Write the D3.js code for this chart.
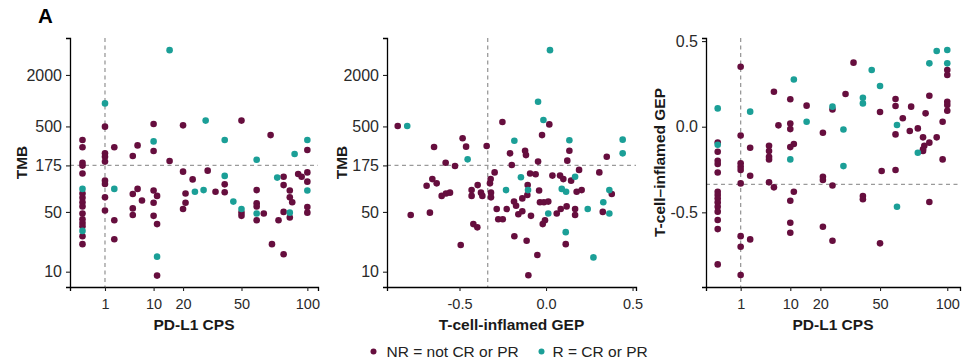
<!DOCTYPE html>
<html>
<head>
<meta charset="utf-8">
<script src="https://cdn.jsdelivr.net/npm/d3@7"></script>
<style>
  html, body { margin: 0; padding: 0; background: #fff; }
  svg { display: block; font-family: "Liberation Sans", Arial, Helvetica, sans-serif; }
</style>
</head>
<body>
<svg id="chart" width="967" height="364"></svg>
<script>
// ---- data: [x, y] pairs per response group ----
// Panel 1: PD-L1 CPS vs TMB
const cpsTmbNR = [
  [1,497],[10,534],[20,515],[50,585],[70,396],[100,265],[10,258],[6,300],[5,225],[2,285],
  [1,242],[1,221],[1,194],[15,197],[0,347],[0,285],[0,188],[0,174],[0,141],[20,148],
  [31,152],[24,120],[80,129],[92,139],[95,129],[100,145],
  [0,82],[0,73],[0,65],[0,58],[0,48],[0,41],[0,37],[0,34],[0,26],[0,21],
  [1,116],[1,106],[1,74],[1,52],[2,40],[2,24],[5,81],[6,93],[7,68],[5,55],[5,46],
  [10,89],[11,77],[10,64],[10,45],[11,36],[11,9],[21,82],[21,64],[20,54],
  [35,86],[40,105],[40,85],[50,49],[50,45],[60,90],[60,63],[60,58],[65,48],[60,40],
  [76,40],[71,21],[80,103],[80,50],[80,16],[85,89],[85,74],[85,43],[87,65],
  [100,113],[100,57],[100,49]
];
const cpsTmbR = [
  [15,3900],[1,930],[30,585],[40,347],[100,347],[89,238],[60,204],[10,334],[40,132],[75,126],
  [0,93],[0,30],[2,93],[11,15],[25,86],[29,90],[45,66],[50,54],[60,48],[85,49],[100,89]
];

// Panel 2: T-cell-inflamed GEP vs TMB
const gepTmbNR = [
  [0.019,528],[-0.252,563],[-0.857,506],[-0.023,396],[-0.482,363],[-0.462,290],[-0.647,287],
  [-0.343,295],[-0.121,260],[-0.116,231],[-0.208,242],[0.135,260],[0.351,221],[-0.580,188],
  [-0.526,172],[-0.198,177],[-0.046,194],[0.123,199],[-0.297,145],[-0.092,141],[-0.060,138],
  [0.037,133],[0.081,133],[0.191,155],[0.308,145],[-0.657,121],[-0.320,121],[0.100,121],
  [0.145,116],[-0.324,108],[-0.690,101],[-0.632,108],[-0.603,77],[-0.578,82],[-0.555,84],
  [-0.782,46],[-0.671,49],[-0.493,20.5],[-0.430,90],[-0.430,77],[-0.395,103],[-0.376,84],
  [-0.368,77],[-0.318,84],[-0.318,74],[-0.420,36],[-0.397,33],[-0.285,54],[-0.276,41],
  [-0.250,41],[-0.185,66],[-0.173,59],[-0.183,26],[-0.227,54],[-0.160,47],[-0.137,51],
  [-0.137,72],[-0.108,79],[-0.106,103],[-0.087,45],[-0.112,23],[-0.050,15.7],[-0.102,9.1],
  [-0.040,89],[-0.035,65],[-0.012,65],[0.013,66],[-0.019,36],[-0.006,40],[0.062,48],
  [0.085,54],[0.119,58],[0.114,21],[0.177,86],[0.206,90],[0.168,54],[0.168,46],
  [0.328,50],[0.380,81]
];
const gepTmbR = [
  [0.023,3900],[-0.046,970],[-0.015,594],[-0.802,506],[-0.183,340],[0.135,345],[0.443,350],
  [0.443,242],[-0.453,206],[-0.145,127],[0.168,129],[-0.231,90],[-0.104,90],[0.013,48],
  [0.091,93],[0.116,86],[0.114,29],[0.241,54],[0.274,14.7],[0.331,65],[0.366,90],[0.366,48]
];

// Panel 3: PD-L1 CPS vs T-cell-inflamed GEP
const cpsGepNR = [
  [0,-0.092],[0,-0.146],[0,-0.199],[0,-0.218],[0,-0.267],[1,0.350],[1,-0.051],[1,-0.214],
  [1,-0.234],[1,-0.253],[2,-0.123],[2,-0.286],[5,-0.111],[5,-0.142],[5,-0.175],[5,-0.191],
  [6,0.204],[7,0.008],[10,0.160],[10,0.019],[10,-0.014],[11,-0.101],[10,-0.119],[15,0.123],
  [21,-0.035],[21,-0.292],[25,0.101],[31,0.191],[35,0.374],[50,0.086],[51,-0.259],[60,0.162],
  [60,0.121],[60,-0.045],[60,-0.253],[65,0.049],[70,-0.025],[71,0.117],[76,-0.010],[80,-0.062],
  [81,-0.111],[80,-0.132],[80,-0.142],[82,0.078],[85,0.181],[85,-0.093],[91,-0.062],[96,0.029],
  [96,-0.191],[100,0.331],[100,0.302],[100,0.146],[100,0.127],[100,0.093],
  [0,-0.380],[0,-0.399],[0,-0.419],[0,-0.442],[0,-0.467],[0,-0.496],[0,-0.545],[0,-0.598],[0,-0.804],
  [1,-0.331],[1,-0.639],[1,-0.701],[1,-0.866],[2,-0.658],[5,-0.325],[6,-0.354],[11,-0.380],
  [10,-0.432],[10,-0.561],[10,-0.619],[21,-0.311],[25,-0.343],[21,-0.584],[25,-0.666],
  [40,-0.405],[40,-0.424],[50,-0.681],[85,-0.440]
];
const cpsGepR = [
  [0,0.107],[0,-0.105],[2,0.088],[11,0.276],[10,-0.191],[15,0.029],[25,0.117],[30,-0.016],
  [30,-0.230],[40,0.169],[40,0.136],[45,0.331],[50,0.238],[61,0.010],[76,-0.152],[85,0.370],
  [91,0.442],[100,0.448],[100,0.370],[61,-0.467]
];

// ---- tick labels and cut-offs ----
const cpsTicks = [1, 10, 20, 50, 100];
const tmbTicks = [10, 50, 175, 500, 2000];
const gepTicks = [-0.5, 0, 0.5];
const cpsCut = 1, tmbCut = 175, gepCut = -0.337;
const groupLabels = ["NR = not CR or PR", "R = CR or PR"];

// ---- styling ----
const colNR = "#660e3e", colR = "#1b9f97";
const dotR = 3.3;
const svg = d3.select("#chart");

svg.append("text").attr("x", 38).attr("y", 23)
  .attr("font-size", 20.5).attr("font-weight", "bold").attr("fill", "#000").text("A");

const panelTop = 38, panelBottom = 287;

function panel(cfg) {
  const { x, y, xTicks, yTicks, xFmt, yFmt, nr, r, xCut, yCut, xTitle, yTitle, yTitleX } = cfg;
  const g = svg.append("g");
  const [x0, x1] = x.range();
  const [y0, y1] = y.range();

  // reference cut-off lines
  g.append("line").attr("x1", x(xCut)).attr("x2", x(xCut)).attr("y1", y1).attr("y2", y0)
    .attr("stroke", "#9a9a9a").attr("stroke-width", 1.3).attr("stroke-dasharray", "4,3.5");
  g.append("line").attr("x1", x0).attr("x2", x1).attr("y1", y(yCut)).attr("y2", y(yCut))
    .attr("stroke", "#9a9a9a").attr("stroke-width", 1.3).attr("stroke-dasharray", "4,3.5");

  // points
  g.append("g").selectAll("circle").data(nr).join("circle")
    .attr("cx", d => x(d[0])).attr("cy", d => y(d[1])).attr("r", dotR).attr("fill", colNR);
  g.append("g").selectAll("circle").data(r).join("circle")
    .attr("cx", d => x(d[0])).attr("cy", d => y(d[1])).attr("r", dotR).attr("fill", colR);

  // axes
  const ax = g.append("g").attr("transform", `translate(0,${y0})`)
    .call(d3.axisBottom(x).tickValues(xTicks).tickFormat(xFmt).tickSizeOuter(0).tickSize(4).tickPadding(4));
  const ay = g.append("g").attr("transform", `translate(${x0},0)`)
    .call(d3.axisLeft(y).tickValues(yTicks).tickFormat(yFmt).tickSizeOuter(0).tickSize(4).tickPadding(4));
  [ax, ay].forEach(a => {
    a.select(".domain").attr("stroke", "#000").attr("stroke-width", 1.3);
    a.selectAll(".tick line").attr("stroke", "#222").attr("stroke-width", 1.1);
    a.selectAll(".tick text").attr("fill", "#2a2a2a")
      .attr("font-family", "Liberation Sans, Arial, sans-serif");
  });
  ax.selectAll(".tick text").attr("font-size", 14.5).attr("dy", "0.95em");
  ay.selectAll(".tick text").attr("font-size", 16);

  // titles
  g.append("text").attr("x", (x0 + x1) / 2).attr("y", 330).attr("text-anchor", "middle")
    .attr("font-size", 15.5).attr("font-weight", "bold").attr("fill", "#1a1a1a").text(xTitle);
  g.append("text").attr("transform", `translate(${yTitleX},${(y0 + y1) / 2}) rotate(-90)`)
    .attr("text-anchor", "middle").attr("font-size", 15.5).attr("font-weight", "bold")
    .attr("fill", "#1a1a1a").text(yTitle);
}

const tmbDomain = [6.62, 5410];
const fmtInt = d => String(d);
const fmtGep = d => d.toFixed(1);

panel({
  x: d3.scaleSqrt().domain([-0.309, 109.7]).range([70, 318]),
  y: d3.scaleLog().domain(tmbDomain).range([panelBottom, panelTop]),
  xTicks: cpsTicks, yTicks: tmbTicks, xFmt: fmtInt, yFmt: fmtInt,
  nr: cpsTmbNR, r: cpsTmbR, xCut: cpsCut, yCut: tmbCut,
  xTitle: "PD-L1 CPS", yTitle: "TMB", yTitleX: 27
});

panel({
  x: d3.scaleLinear().domain([-0.919, 0.52]).range([387, 636]),
  y: d3.scaleLog().domain(tmbDomain).range([panelBottom, panelTop]),
  xTicks: gepTicks, yTicks: tmbTicks, xFmt: fmtGep, yFmt: fmtInt,
  nr: gepTmbNR, r: gepTmbR, xCut: gepCut, yCut: tmbCut,
  xTitle: "T-cell-inflamed GEP", yTitle: "TMB", yTitleX: 347
});

panel({
  x: d3.scaleSqrt().domain([-0.26, 111.4]).range([706, 960]),
  y: d3.scaleLinear().domain([-0.936, 0.518]).range([panelBottom, panelTop]),
  xTicks: cpsTicks, yTicks: gepTicks, xFmt: fmtInt, yFmt: fmtGep,
  nr: cpsGepNR, r: cpsGepR, xCut: cpsCut, yCut: gepCut,
  xTitle: "PD-L1 CPS", yTitle: "T-cell\u2013inflamed GEP", yTitleX: 665
});

// legend
const legend = svg.append("g");
const legendItems = [
  { label: groupLabels[0], color: colNR, cx: 373.5, tx: 386.5 },
  { label: groupLabels[1], color: colR, cx: 541.5, tx: 552.5 }
];
legendItems.forEach(it => {
  legend.append("circle").attr("cx", it.cx).attr("cy", 351.5).attr("r", 3).attr("fill", it.color);
  legend.append("text").attr("x", it.tx).attr("y", 357).attr("font-size", 15.5)
    .attr("fill", "#222").text(it.label);
});
</script>
</body>
</html>
